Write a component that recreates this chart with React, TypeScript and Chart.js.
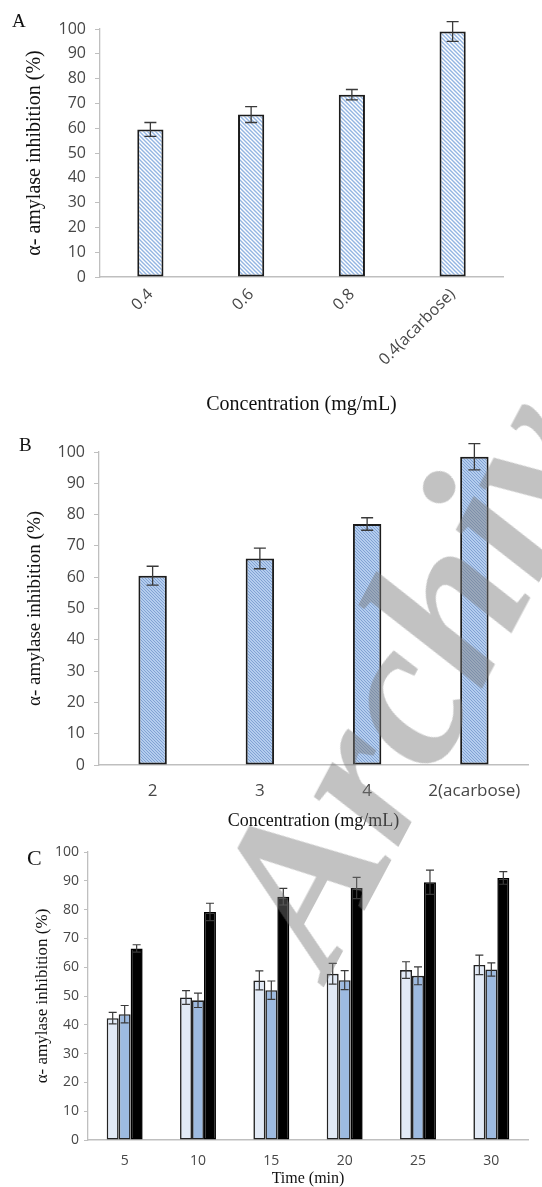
import React, { useEffect, useRef } from 'react';
import { Chart, registerables } from 'chart.js';

Chart.register(...registerables);

// ---------- data ----------
const concA = ['0.4', '0.6', '0.8', '0.4(acarbose)'];
const inhibA = [59.5, 65.5, 73.5, 99];
const errA = [2.8, 3.2, 2.1, 4];

const concB = ['2', '3', '4', '2(acarbose)'];
const inhibB = [60.5, 66, 77, 98.5];
const errB = [3, 3.3, 2, 4.2];

const timeC = ['5', '10', '15', '20', '25', '30'];
const series1C = [42.3, 49.5, 55.4, 57.7, 59, 60.8];
const err1C = [2, 2.4, 3.3, 3.6, 2.9, 3.4];
const series2C = [43.7, 48.5, 52, 55.5, 57, 59.2];
const err2C = [3, 2.5, 3.2, 3.3, 3.1, 2.3];
const series3C = [66.5, 79.2, 84.5, 87.5, 89.5, 91];
const err3C = [1.3, 3, 2.9, 3.7, 4.2, 2.2];

const yTitle = 'α- amylase inhibition (%)';
const watermark = 'Archive of SID';
const tickColor = '#474747';
const axisColor = '#bfbfbf';
const sans = '"Open Sans", "Noto Sans", sans-serif';
const serif = '"Liberation Serif", "Times New Roman", serif';

// ---------- error bar plugin ----------
const errorBarPlugin = {
  id: 'errorBars',
  afterDatasetsDraw(chart: any, _args: any, opts: any) {
    const ctx = chart.ctx;
    const yScale = chart.scales.y;
    chart.data.datasets.forEach((ds: any, di: number) => {
      const meta = chart.getDatasetMeta(di);
      const errs = ds.errors || [];
      meta.data.forEach((bar: any, i: number) => {
        const v = ds.data[i];
        const e = errs[i];
        if (e == null) return;
        const x = bar.x;
        const yt = yScale.getPixelForValue(v + e);
        const yb = yScale.getPixelForValue(v - e);
        const cap = opts.cap || 5;
        ctx.save();
        ctx.strokeStyle = opts.color || '#404040';
        ctx.lineWidth = opts.width || 1.3;
        ctx.beginPath();
        ctx.moveTo(x, yt);
        ctx.lineTo(x, yb);
        ctx.moveTo(x - cap, yt);
        ctx.lineTo(x + cap, yt);
        ctx.moveTo(x - cap, yb);
        ctx.lineTo(x + cap, yb);
        ctx.stroke();
        ctx.restore();
      });
    });
  },
};

function makePattern(ctx: CanvasRenderingContext2D, bg: string, fg: string, size: number, lw: number) {
  const c = document.createElement('canvas');
  c.width = size;
  c.height = size;
  const g = c.getContext('2d')!;
  g.fillStyle = bg;
  g.fillRect(0, 0, size, size);
  g.strokeStyle = fg;
  g.lineWidth = lw;
  g.beginPath();
  g.moveTo(-1, -1);
  g.lineTo(size + 1, size + 1);
  g.moveTo(-1, size - 1);
  g.lineTo(1, size + 1);
  g.moveTo(size - 1, -1);
  g.lineTo(size + 1, 1);
  g.stroke();
  return ctx.createPattern(c, 'repeat');
}

function yScaleOpts(width: number, fontSize: number, titleSize: number, titlePad: number, tickLen: number, tickPad: number) {
  return {
    min: 0,
    max: 100,
    ticks: { stepSize: 10, color: tickColor, font: { family: sans, size: fontSize }, padding: tickPad },
    grid: { drawOnChartArea: false, drawTicks: true, tickLength: tickLen, color: axisColor, lineWidth: 1 },
    border: { display: true, color: axisColor, width: 1.3 },
    title: {
      display: true,
      text: yTitle,
      color: '#111111',
      font: { family: serif, size: titleSize, lineHeight: 1.2 },
      padding: { top: titlePad, bottom: 0 },
    },
    afterFit: (s: any) => {
      s.width = width;
    },
  };
}

function xScaleOpts(height: number, fontSize: number, title: string, titleSize: number, tickPad: number, rotation: number) {
  return {
    grid: { display: false, drawTicks: false },
    border: { display: true, color: axisColor, width: 1.5 },
    ticks: {
      color: tickColor,
      font: { family: sans, size: fontSize },
      padding: tickPad,
      autoSkip: false,
      minRotation: rotation,
      maxRotation: rotation,
    },
    title: {
      display: true,
      text: title,
      color: '#111111',
      font: { family: serif, size: titleSize, lineHeight: 1.0 },
      padding: { top: 0, bottom: 0 },
    },
    afterFit: (s: any) => {
      s.height = height;
    },
  };
}

export default function App() {
  const refA = useRef<HTMLCanvasElement>(null);
  const refB = useRef<HTMLCanvasElement>(null);
  const refC = useRef<HTMLCanvasElement>(null);

  useEffect(() => {
    document.body.style.margin = '0';
    const ctxA = refA.current!.getContext('2d')!;
    const ctxB = refB.current!.getContext('2d')!;
    const patA = makePattern(ctxA, '#ffffff', '#93b5e2', 4, 1.4);
    const patB = makePattern(ctxB, '#b4cdee', '#7c9dcf', 3, 0.9);

    const chartA = new Chart(refA.current!, {
      type: 'bar',
      data: {
        labels: concA,
        datasets: [
          {
            data: inhibA,
            errors: errA,
            backgroundColor: patA,
            borderColor: '#1c1c1c',
            borderWidth: 2,
            borderSkipped: false,
            barPercentage: 0.26,
            categoryPercentage: 1,
          } as any,
        ],
      },
      options: {
        responsive: false,
        animation: false,
        layout: { padding: { top: 29, right: 39, left: 0, bottom: 0 } },
        plugins: {
          legend: { display: false },
          tooltip: { enabled: false },
          errorBars: { color: '#3a3a3a', width: 1.3, cap: 6 },
        } as any,
        scales: {
          x: xScaleOpts(138, 16, 'Concentration (mg/mL)', 20, 8, 45) as any,
          y: yScaleOpts(100, 16, 20, 23, 5, 9) as any,
        },
      },
      plugins: [errorBarPlugin],
    });

    const chartB = new Chart(refB.current!, {
      type: 'bar',
      data: {
        labels: concB,
        datasets: [
          {
            data: inhibB,
            errors: errB,
            backgroundColor: patB,
            borderColor: '#1c1c1c',
            borderWidth: 2,
            borderSkipped: false,
            barPercentage: 0.265,
            categoryPercentage: 1,
          } as any,
        ],
      },
      options: {
        responsive: false,
        animation: false,
        layout: { padding: { top: 37, right: 14, left: 0, bottom: 0 } },
        plugins: {
          legend: { display: false },
          tooltip: { enabled: false },
          errorBars: { color: '#3a3a3a', width: 1.3, cap: 6 },
        } as any,
        scales: {
          x: xScaleOpts(65, 17, 'Concentration (mg/mL)', 18, 16, 0) as any,
          y: yScaleOpts(99, 16, 19, 24, 5, 9) as any,
        },
      },
      plugins: [errorBarPlugin],
    });

    const chartC = new Chart(refC.current!, {
      type: 'bar',
      data: {
        labels: timeC,
        datasets: [
          {
            data: series1C,
            errors: err1C,
            backgroundColor: '#e2eaf6',
            borderColor: '#222222',
            borderWidth: 1.6,
            borderSkipped: false,
            barPercentage: 1,
            categoryPercentage: 0.49,
          } as any,
          {
            data: series2C,
            errors: err2C,
            backgroundColor: '#9dbae0',
            borderColor: '#222222',
            borderWidth: 1.6,
            borderSkipped: false,
            barPercentage: 1,
            categoryPercentage: 0.49,
          } as any,
          {
            data: series3C,
            errors: err3C,
            backgroundColor: '#000000',
            borderColor: '#000000',
            borderWidth: 1.6,
            borderSkipped: false,
            barPercentage: 1,
            categoryPercentage: 0.49,
          } as any,
        ],
      },
      options: {
        responsive: false,
        animation: false,
        layout: { padding: { top: 22, right: 14, left: 0, bottom: 0 } },
        plugins: {
          legend: { display: false },
          tooltip: { enabled: false },
          errorBars: { color: '#3a3a3a', width: 1.2, cap: 4 },
        } as any,
        scales: {
          x: xScaleOpts(47, 14, 'Time (min)', 16, 13, 0) as any,
          y: yScaleOpts(88, 14, 17, 32, 4, 5) as any,
        },
      },
      plugins: [errorBarPlugin],
    });

    return () => {
      chartA.destroy();
      chartB.destroy();
      chartC.destroy();
    };
  }, []);

  const letter = (t: string, left: number, top: number, size: number) => (
    <div
      style={{
        position: 'absolute',
        left,
        top,
        fontFamily: serif,
        fontSize: size,
        lineHeight: 1,
        color: '#111',
      }}
    >
      {t}
    </div>
  );

  return (
    <div style={{ position: 'relative', width: 542, height: 1187, background: '#fff', overflow: 'hidden' }}>
      <canvas ref={refA} width={542} height={415} style={{ display: 'block' }} />
      <canvas ref={refB} width={542} height={415} style={{ display: 'block' }} />
      <canvas ref={refC} width={542} height={357} style={{ display: 'block' }} />
      {letter('A', 12, 11, 19)}
      {letter('B', 19, 435, 19)}
      {letter('C', 27, 847, 22)}
      <div
        style={{
          position: 'absolute',
          left: 170,
          top: 893,
          transform: 'rotate(-62deg)',
          transformOrigin: '0 0',
          fontFamily: serif,
          fontWeight: 'bold',
          fontStyle: 'italic',
          fontSize: 215,
          lineHeight: 1,
          whiteSpace: 'nowrap',
          color: 'rgba(120,120,120,0.45)',
          pointerEvents: 'none',
        }}
      >
        {watermark}
      </div>
    </div>
  );
}
